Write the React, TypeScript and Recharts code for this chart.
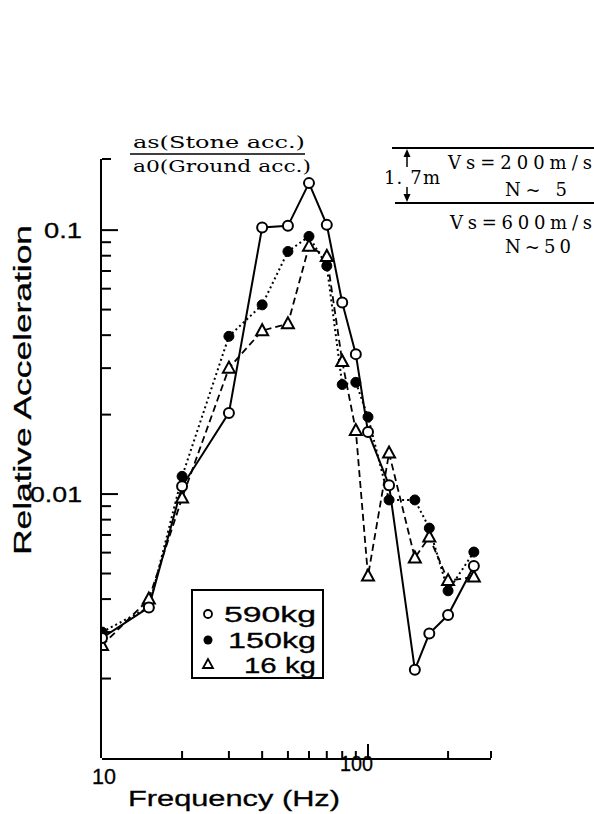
import React from 'react';
import { LineChart, Line, XAxis, YAxis } from 'recharts';

// Frequencies (Hz)
const freqs = [10, 15, 20, 30, 40, 50, 60, 70, 80, 90, 100, 120, 150, 170, 200, 250];
// Relative acceleration as/a0 per stone mass
const acc590 = [0.00285, 0.00372, 0.0107, 0.0203, 0.1024, 0.1038, 0.1507, 0.1047, 0.0532, 0.0339, 0.0172, 0.0108, 0.00216, 0.00296, 0.00348, 0.00534];
const acc150 = [0.0030, 0.00372, 0.01167, 0.0396, 0.0521, 0.083, 0.0947, 0.0732, 0.026, 0.0265, 0.0196, 0.0095, 0.0095, 0.00743, 0.0043, 0.00603];
const acc16 = [0.00267, 0.0040, 0.00966, 0.030, 0.0416, 0.0442, 0.0868, 0.0795, 0.0318, 0.0174, 0.00489, 0.0143, 0.00573, 0.00687, 0.0047, 0.00485];

const X_MIN = 10;
const X_MAX = 290;
const Y_MIN = 0.001;
const Y_MAX = 0.186;
const xMinorTicks = [20, 30, 40, 50, 60, 70, 80, 90, 200, 290];
const xMajorTicks = [100];
const yMinorTicks = [0.002, 0.003, 0.004, 0.005, 0.006, 0.007, 0.008, 0.009, 0.02, 0.03, 0.04, 0.05, 0.06, 0.07, 0.08, 0.09, 0.186];
const yMajorTicks = [0.01, 0.1];
const yLabels: Record<string, string> = { '0.01': '0.01', '0.1': '0.1' };

const data = freqs.map((f, i) => ({ f, a590: acc590[i], a150: acc150[i], a16: acc16[i] }));

const SANS = 'Liberation Sans, Arial, sans-serif';
const SERIF = 'DejaVu Serif, Liberation Serif, serif';
const sansStyle = { fontFamily: SANS, fill: '#000', stroke: '#000', strokeWidth: 0.3 } as const;

const YLabelTick = (p: any) => {
  const v = p.payload.value;
  const lab = yLabels[String(v)];
  if (!lab) return <g />;
  const y = Number(p.y);
  const w = lab.length === 3 ? 38 : 52;
  return (
    <text x={82 - w} y={y} textAnchor="start" dominantBaseline="central" fontSize={22}
      textLength={w} lengthAdjust="spacingAndGlyphs" {...sansStyle}>{lab}</text>
  );
};
const NoTick = () => <g />;

const OpenDot = (p: any) =>
  p.cx == null ? <g key={`o${p.index}`} /> : (
    <circle key={`o${p.index}`} cx={p.cx} cy={p.cy} r={5} fill="#fff" stroke="#000" strokeWidth={2} />
  );
const FilledDot = (p: any) =>
  p.cx == null ? <g key={`f${p.index}`} /> : (
    <circle key={`f${p.index}`} cx={p.cx} cy={p.cy} r={5} fill="#000" stroke="#000" strokeWidth={1} />
  );
const TriDot = (p: any) =>
  p.cx == null ? <g key={`t${p.index}`} /> : (
    <polygon key={`t${p.index}`} points={`${p.cx},${p.cy - 6.5} ${p.cx - 6},${p.cy + 4.5} ${p.cx + 6},${p.cy + 4.5}`}
      fill="#fff" stroke="#000" strokeWidth={2} />
  );

const tickLine = { stroke: '#000', strokeWidth: 2 };

export default function App() {
  return (
    <div style={{ position: 'absolute', left: 0, top: 0, width: 594, height: 814, background: '#fff' }}>
      <LineChart width={594} height={814} data={data} margin={{ top: 159, right: 103, bottom: 0, left: 0 }}>
        {/* default-id axes (nearest the plot) carry the minor ticks and the data */}
        <XAxis dataKey="f" type="number" scale="log" domain={[X_MIN, X_MAX]} allowDataOverflow
          ticks={xMinorTicks} interval={0} height={1} tickSize={-7} tickMargin={0}
          tickLine={tickLine} axisLine={false} tick={(p: any) => <NoTick />} />
        <XAxis xAxisId="major" dataKey="f" type="number" scale="log" domain={[X_MIN, X_MAX]} allowDataOverflow
          ticks={xMajorTicks} interval={0} height={55} tickSize={-15} tickMargin={0}
          tickLine={tickLine} axisLine={{ stroke: '#000', strokeWidth: 2 }} tick={(p: any) => <NoTick />} />
        <YAxis type="number" scale="log" domain={[Y_MIN, Y_MAX]} allowDataOverflow
          ticks={yMinorTicks} interval={0} width={1} tickSize={-9} tickMargin={0}
          tickLine={tickLine} axisLine={false} tick={(p: any) => <NoTick />} />
        <YAxis yAxisId="major" type="number" scale="log" domain={[Y_MIN, Y_MAX]} allowDataOverflow ticks={yMajorTicks}
          interval={0} width={101} tickSize={-17} tickMargin={0} tickLine={tickLine}
          axisLine={{ stroke: '#000', strokeWidth: 2 }} tick={(p: any) => <YLabelTick {...p} />} />
        <Line dataKey="a16" type="linear" stroke="#000" strokeWidth={1.8} strokeDasharray="7 4" dot={TriDot} isAnimationActive={false} />
        <Line dataKey="a150" type="linear" stroke="#000" strokeWidth={2} strokeDasharray="2 3" dot={FilledDot} isAnimationActive={false} />
        <Line dataKey="a590" type="linear" stroke="#000" strokeWidth={2} dot={OpenDot} isAnimationActive={false} />
      </LineChart>
      <svg width={594} height={814} style={{ position: 'absolute', left: 0, top: 0, pointerEvents: 'none' }}>
        {/* y-axis title */}
        <text x={0} y={0} transform="translate(23,390) rotate(-90)" textAnchor="middle" dominantBaseline="central"
          fontSize={23} textLength={330} lengthAdjust="spacingAndGlyphs" {...sansStyle}>Relative  Acceleration</text>
        {/* x-axis labels */}
        <text x={92} y={776} dominantBaseline="central" fontSize={22}
          textLength={24} lengthAdjust="spacingAndGlyphs" {...sansStyle}>10</text>
        <text x={340} y={763} dominantBaseline="central" fontSize={22}
          textLength={33} lengthAdjust="spacingAndGlyphs" {...sansStyle}>100</text>
        <text x={128} y={798} dominantBaseline="central" fontSize={22}
          textLength={212} lengthAdjust="spacingAndGlyphs" {...sansStyle}>Frequency (Hz)</text>
        {/* ratio annotation */}
        <text x={133} y={142} dominantBaseline="central" fontFamily={SERIF} fontSize={17}
          textLength={172} lengthAdjust="spacingAndGlyphs">as(Stone acc.)</text>
        <line x1={130} x2={305} y1={154} y2={154} stroke="#000" strokeWidth={1.5} />
        <text x={133} y={166} dominantBaseline="central" fontFamily={SERIF} fontSize={17}
          textLength={178} lengthAdjust="spacingAndGlyphs">a0(Ground acc.)</text>
        {/* soil layer annotation */}
        <line x1={392} x2={594} y1={148} y2={148} stroke="#000" strokeWidth={2} />
        <line x1={395} x2={594} y1={203} y2={203} stroke="#000" strokeWidth={2} />
        <line x1={407} x2={407} y1={154} y2={167} stroke="#000" strokeWidth={1.5} />
        <polygon points="407,149 403.5,157 410.5,157" fill="#000" />
        <line x1={407} x2={407} y1={187} y2={198} stroke="#000" strokeWidth={1.5} />
        <polygon points="407,202 403.5,194 410.5,194" fill="#000" />
        <text x={384} y={177} dominantBaseline="central" fontFamily={SERIF} fontSize={18}
          textLength={56} lengthAdjust="spacing">1. 7m</text>
        <text x={448} y={162} dominantBaseline="central" fontFamily={SERIF} fontSize={18}
          textLength={144} lengthAdjust="spacing">Vs=200m/s</text>
        <text x={505} y={189} dominantBaseline="central" fontFamily={SERIF} fontSize={18}
          textLength={62} lengthAdjust="spacing">N~ 5</text>
        <text x={450} y={222} dominantBaseline="central" fontFamily={SERIF} fontSize={18}
          textLength={142} lengthAdjust="spacing">Vs=600m/s</text>
        <text x={505} y={246} dominantBaseline="central" fontFamily={SERIF} fontSize={18}
          textLength={66} lengthAdjust="spacing">N~50</text>
        {/* legend */}
        <rect x={192} y={590} width={131} height={88} fill="#fff" stroke="#000" strokeWidth={2} />
        <circle cx={208} cy={614} r={4} fill="#fff" stroke="#000" strokeWidth={1.8} />
        <text x={224} y={614} dominantBaseline="central" fontSize={22}
          textLength={92} lengthAdjust="spacingAndGlyphs" {...sansStyle}>590kg</text>
        <circle cx={208} cy={640} r={4.5} fill="#000" />
        <text x={228} y={640} dominantBaseline="central" fontSize={22}
          textLength={88} lengthAdjust="spacingAndGlyphs" {...sansStyle}>150kg</text>
        <polygon points="208,659 203,668 213,668" fill="#fff" stroke="#000" strokeWidth={1.8} />
        <text x={244} y={665} dominantBaseline="central" fontSize={22}
          textLength={72} lengthAdjust="spacingAndGlyphs" {...sansStyle}>16 kg</text>
      </svg>
    </div>
  );
}
